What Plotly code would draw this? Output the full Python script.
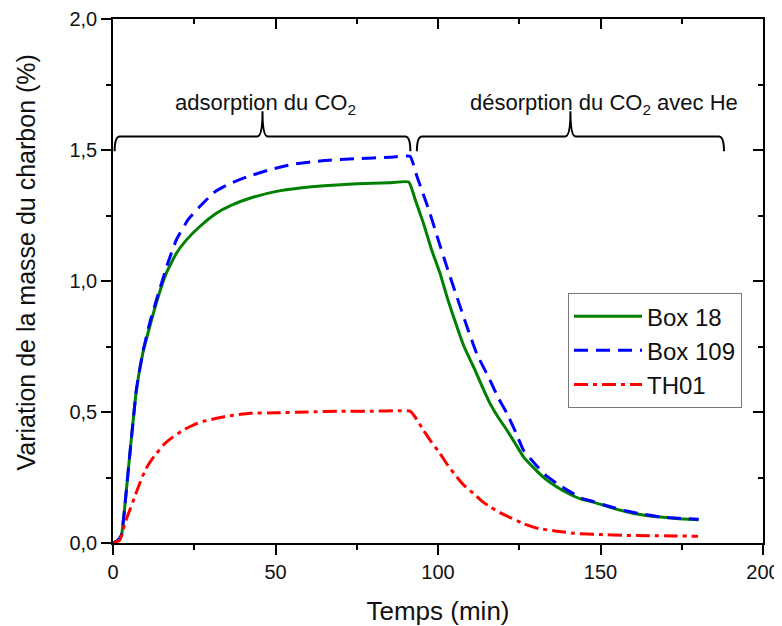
import plotly.graph_objects as go

# ---- data ----
box18_t = [0, 1.5, 2.6, 4.1, 5.5, 7.2, 9.2, 11.3, 13.9, 16.4, 19.5, 22.6, 26.7, 31.8, 36.5, 42.1, 50.3, 57.5, 65, 75, 85, 91,
           93, 95.5, 98, 100.6, 103, 105.8, 108, 110.9, 113.5, 116, 118.5, 121.2, 124, 126.3, 130, 133, 136.6, 140, 144,
           147.8, 152, 158, 163, 168.4, 174, 180.2]
box18_v = [0, 0.01, 0.03, 0.20, 0.38, 0.584, 0.726, 0.826, 0.94, 1.03, 1.106, 1.157, 1.208, 1.259, 1.29, 1.316, 1.342,
           1.355, 1.364, 1.371, 1.375, 1.378,
           1.31, 1.221, 1.12, 1.03, 0.93, 0.826, 0.75, 0.673, 0.6, 0.533, 0.48, 0.431, 0.375, 0.329, 0.28, 0.245, 0.214,
           0.19, 0.168, 0.156, 0.14, 0.119, 0.107, 0.099, 0.093, 0.089]

box109_t = [0, 1.5, 2.6, 4.1, 5.5, 7.2, 9.2, 11.3, 13.9, 16.9, 19.5, 23.1, 26.7, 31.3, 36, 41.1, 48.3, 55.5, 65, 75, 85, 91.4,
            93.5, 95.5, 97.5, 100, 102.7, 105.8, 108.9, 112, 116, 118.5, 121.2, 124, 126.3, 130, 133, 136.6, 140, 144,
            147.8, 152, 158, 163, 168.4, 174, 180.2]
box109_v = [0, 0.01, 0.03, 0.20, 0.38, 0.585, 0.73, 0.84, 0.95, 1.07, 1.157, 1.234, 1.284, 1.34, 1.372, 1.397, 1.425,
            1.446, 1.46, 1.467, 1.472, 1.476,
            1.40, 1.33, 1.259, 1.16, 1.055, 0.94, 0.826, 0.72, 0.622, 0.555, 0.495, 0.42, 0.354, 0.3, 0.26, 0.227,
            0.2, 0.172, 0.158, 0.142, 0.122, 0.11, 0.1, 0.094, 0.091]

th01_t = [0, 2, 2.7, 3.6, 5, 6.5, 8.2, 10, 12, 13.4, 16, 18.5, 21.6, 25, 28, 31.8, 36, 42.1, 50, 60, 70, 80, 88, 91.4,
          93, 95.5, 98, 100.6, 103, 105.8, 108, 110.9, 113.5, 116, 120, 126.3, 131, 136.6, 142, 150, 158, 165, 172, 180]
th01_v = [0, 0.01, 0.03, 0.074, 0.12, 0.17, 0.227, 0.28, 0.32, 0.342, 0.38, 0.405, 0.431, 0.452, 0.465, 0.476, 0.486,
          0.495, 0.497, 0.5, 0.503, 0.503, 0.505, 0.503,
          0.48, 0.431, 0.385, 0.342, 0.297, 0.252, 0.22, 0.189, 0.16, 0.138, 0.11, 0.074, 0.055, 0.045, 0.037, 0.032,
          0.029, 0.028, 0.027, 0.026]

series_names = ["Box 18", "Box 109", "TH01"]

# phases annotated with braces
phase_labels = ["adsorption du CO<sub>2</sub>", "désorption du CO<sub>2</sub> avec He"]
phase_start = [0.5, 93.5]
phase_end = [91.5, 188]
label_x = [47, 151]

x_tick_vals = [0, 50, 100, 150, 200]
y_tick_vals = [0.0, 0.5, 1.0, 1.5, 2.0]

x_title = "Temps (min)"
y_title = "Variation de la masse du charbon (%)"

FONT = "Liberation Sans, Arial, sans-serif"

fig = go.Figure()
fig.add_trace(go.Scatter(x=box18_t, y=box18_v, mode="lines", name=series_names[0],
                         line=dict(color="#008000", width=3, shape="spline", smoothing=0.4)))
fig.add_trace(go.Scatter(x=box109_t, y=box109_v, mode="lines", name=series_names[1],
                         line=dict(color="#0000FF", width=3, dash="14px,8px", shape="spline", smoothing=0.4)))
fig.add_trace(go.Scatter(x=th01_t, y=th01_v, mode="lines", name=series_names[2],
                         line=dict(color="#FF0000", width=3, dash="14px,5px,4px,5px", shape="spline", smoothing=0.4)))
# helper trace for the mirrored (top/right) axes
fig.add_trace(go.Scatter(x=[None], y=[None], xaxis="x2", yaxis="y2", showlegend=False, hoverinfo="skip"))

# braces
yb, ye, yt = 1.552, 1.495, 1.648
for a, b, lx, txt in zip(phase_start, phase_end, label_x, phase_labels):
    m = (a + b) / 2
    r = 1.6
    path = (f"M{a},{ye} Q{a},{yb} {a + r},{yb} L{m - r},{yb} Q{m},{yb} {m},{yt} "
            f"Q{m},{yb} {m + r},{yb} L{b - r},{yb} Q{b},{yb} {b},{ye}")
    fig.add_shape(type="path", path=path, xref="x", yref="y", line=dict(color="black", width=2))
    fig.add_annotation(x=lx, y=1.616, xref="x", yref="y", text=txt, showarrow=False,
                       yanchor="bottom", font=dict(family=FONT, size=22, color="#111"))

# y-axis title (placed as in the reference, slightly above the axis centre)
fig.add_annotation(x=-0.134, y=0.535, xref="paper", yref="paper", text=y_title, textangle=-90,
                   showarrow=False, xanchor="center", yanchor="middle",
                   font=dict(family=FONT, size=25, color="#111"))

axis_common = dict(showline=True, linecolor="black", linewidth=1.5, showgrid=False, zeroline=False,
                   tickcolor="black", tickwidth=1.5, ticklen=10)

fig.update_layout(
    width=774, height=618,
    margin=dict(l=105.3, r=19.3, t=11.3, b=83.3, autoexpand=False),
    paper_bgcolor="white", plot_bgcolor="white",
    separators=",.",
    font=dict(family=FONT, size=20, color="#111"),
    xaxis=dict(range=[0, 200], tickvals=x_tick_vals, ticks="outside",
               minor=dict(dtick=25, tick0=0, ticks="outside", ticklen=5, tickwidth=1.5, tickcolor="black"),
               title=dict(text=x_title, font=dict(size=26), standoff=20),
               tickfont=dict(size=20), **axis_common),
    yaxis=dict(range=[0, 2.0], tickvals=y_tick_vals, tickformat=".1f", ticks="outside",
               minor=dict(dtick=0.25, tick0=0, ticks="outside", ticklen=5, tickwidth=1.5, tickcolor="black"),
               tickfont=dict(size=20), **axis_common),
    xaxis2=dict(range=[0, 200], overlaying="x", side="top", anchor="y", tickvals=x_tick_vals, ticks="inside",
                showticklabels=False,
                minor=dict(dtick=25, tick0=0, ticks="inside", ticklen=5, tickwidth=1.5, tickcolor="black"),
                **axis_common),
    yaxis2=dict(range=[0, 2.0], overlaying="y", side="right", anchor="x", tickvals=y_tick_vals, ticks="inside",
                showticklabels=False,
                minor=dict(dtick=0.25, tick0=0, ticks="inside", ticklen=5, tickwidth=1.5, tickcolor="black"),
                **axis_common),
    legend=dict(x=0.700, y=0.477, xanchor="left", yanchor="top", bgcolor="white",
                bordercolor="#777", borderwidth=1, font=dict(size=24, family=FONT, color="#111"),
                itemwidth=68, tracegroupgap=0),
    showlegend=True,
)

fig.write_html("out.html")
